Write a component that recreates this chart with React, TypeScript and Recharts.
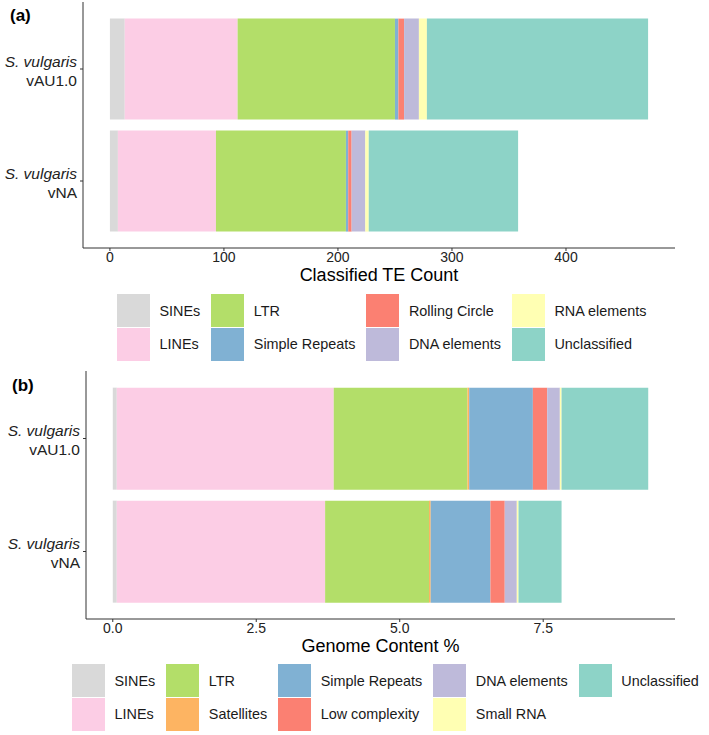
import React from "react";
import { BarChart, Bar, XAxis, YAxis } from "recharts";

const FONT = "'Liberation Sans', Arial, Helvetica, sans-serif";

const species = "S. vulgaris";
const genomes = ["vAU1.0", "vNA"];

// (a) classified TE counts
const countClasses = [
  "SINEs",
  "LINEs",
  "LTR",
  "Simple Repeats",
  "Rolling Circle",
  "DNA elements",
  "RNA elements",
  "Unclassified",
];
const countAU = [13, 99, 138, 3, 5, 13, 7, 194];
const countNA = [7, 86, 114, 2, 3, 12, 3, 131];
const countTicks = [0, 100, 200, 300, 400];

// (b) genome content %
const contentClasses = [
  "SINEs",
  "LINEs",
  "LTR",
  "Satellites",
  "Simple Repeats",
  "Low complexity",
  "DNA elements",
  "Small RNA",
  "Unclassified",
];
const contentAU = [0.07, 3.78, 2.33, 0.03, 1.11, 0.25, 0.22, 0.03, 1.51];
const contentNA = [0.07, 3.63, 1.81, 0.03, 1.04, 0.25, 0.21, 0.03, 0.75];
const contentTicks = [0, 2.5, 5, 7.5];

const legendA = [
  ["SINEs", "LINEs"],
  ["LTR", "Simple Repeats"],
  ["Rolling Circle", "DNA elements"],
  ["RNA elements", "Unclassified"],
];
const legendB = [
  ["SINEs", "LINEs"],
  ["LTR", "Satellites"],
  ["Simple Repeats", "Low complexity"],
  ["DNA elements", "Small RNA"],
  ["Unclassified"],
];

const colors: Record<string, string> = {
  SINEs: "#D9D9D9",
  LINEs: "#FCCDE5",
  LTR: "#B3DE69",
  Satellites: "#FDB462",
  "Simple Repeats": "#80B1D3",
  "Rolling Circle": "#FB8072",
  "Low complexity": "#FB8072",
  "DNA elements": "#BEBADA",
  "RNA elements": "#FFFFB3",
  "Small RNA": "#FFFFB3",
  Unclassified: "#8DD3C7",
};

function toRows(classes: string[], series: number[][]) {
  return genomes.map((g, i) => {
    const row: any = { genome: g };
    classes.forEach((c, j) => (row[c] = series[i][j]));
    return row;
  });
}

function paddedDomain(series: number[][]) {
  const max = Math.max(...series.map((s) => s.reduce((a, b) => a + b, 0)));
  return [-0.05 * max, 1.05 * max];
}

function GenomeTick(props: any) {
  const { x, y, payload } = props;
  return (
    <text x={x} y={y} textAnchor="end" fontSize={15.5} fill="#222" fontFamily={FONT}>
      <tspan x={x} dy={-2.5} fontStyle="italic">
        {species}
      </tspan>
      <tspan x={x} dy={19}>
        {payload.value}
      </tspan>
    </text>
  );
}

function Panel({ rows, classes, ticks, domain, title, yWidth, marginTop, height, fmt }: any) {
  return (
    <BarChart
      layout="vertical"
      width={709}
      height={height}
      data={rows}
      margin={{ top: marginTop, right: 34, bottom: 0, left: 0 }}
      barCategoryGap="5%"
    >
      <XAxis
        type="number"
        domain={domain}
        ticks={ticks}
        allowDataOverflow
        interval={0}
        tickSize={3}
        tickMargin={1}
        height={42}
        stroke="#333"
        tickFormatter={fmt}
        tick={{ fontSize: 14, fill: "#222", fontFamily: FONT }}
        label={{
          value: title,
          position: "insideBottom",
          offset: 9,
          fontSize: 18,
          fill: "#000",
          fontFamily: FONT,
        }}
      />
      <YAxis
        type="category"
        dataKey="genome"
        width={yWidth}
        tickSize={3}
        tickMargin={3}
        stroke="#333"
        interval={0}
        padding={{ top: 11, bottom: 11 }}
        tick={<GenomeTick />}
      />
      {classes.map((c: string) => (
        <Bar key={c} dataKey={c} stackId="s" fill={colors[c]} isAnimationActive={false} />
      ))}
    </BarChart>
  );
}

function KeyLegend({ columns, left, top }: any) {
  return (
    <div style={{ position: "absolute", left, top, display: "flex", gap: 11 }}>
      {columns.map((col: string[], i: number) => (
        <div key={i} style={{ display: "flex", flexDirection: "column" }}>
          {col.map((name) => (
            <div key={name} style={{ display: "flex", alignItems: "center", height: 33.5 }}>
              <div style={{ width: 33, height: 33, background: colors[name] }} />
              <span style={{ marginLeft: 9.5, fontSize: 14.4, color: "#1a1a1a", whiteSpace: "nowrap" }}>
                {name}
              </span>
            </div>
          ))}
        </div>
      ))}
    </div>
  );
}

export default function App() {
  const rowsA = toRows(countClasses, [countAU, countNA]);
  const rowsB = toRows(contentClasses, [contentAU, contentNA]);
  const panelLabel: any = {
    position: "absolute",
    fontSize: 17,
    fontWeight: "bold",
    lineHeight: "17px",
  };
  return (
    <div
      style={{
        position: "absolute",
        left: 0,
        top: 0,
        width: 709,
        height: 735,
        background: "#fff",
        fontFamily: FONT,
      }}
    >
      <div style={{ position: "absolute", left: 0, top: 0 }}>
        <Panel
          rows={rowsA}
          classes={countClasses}
          ticks={countTicks}
          domain={paddedDomain([countAU, countNA])}
          title="Classified TE Count"
          yWidth={83}
          marginTop={2}
          height={290}
          fmt={(v: number) => String(v)}
        />
      </div>
      <div style={{ ...panelLabel, left: 10, top: 6.5 }}>(a)</div>
      <KeyLegend columns={legendA} left={117} top={294} />

      <div style={{ position: "absolute", left: 0, top: 360 }}>
        <Panel
          rows={rowsB}
          classes={contentClasses}
          ticks={contentTicks}
          domain={paddedDomain([contentAU, contentNA])}
          title="Genome Content %"
          yWidth={86}
          marginTop={11}
          height={301}
          fmt={(v: number) => v.toFixed(1)}
        />
      </div>
      <div style={{ ...panelLabel, left: 12, top: 376.5 }}>(b)</div>
      <KeyLegend columns={legendB} left={72} top={664} />
    </div>
  );
}
